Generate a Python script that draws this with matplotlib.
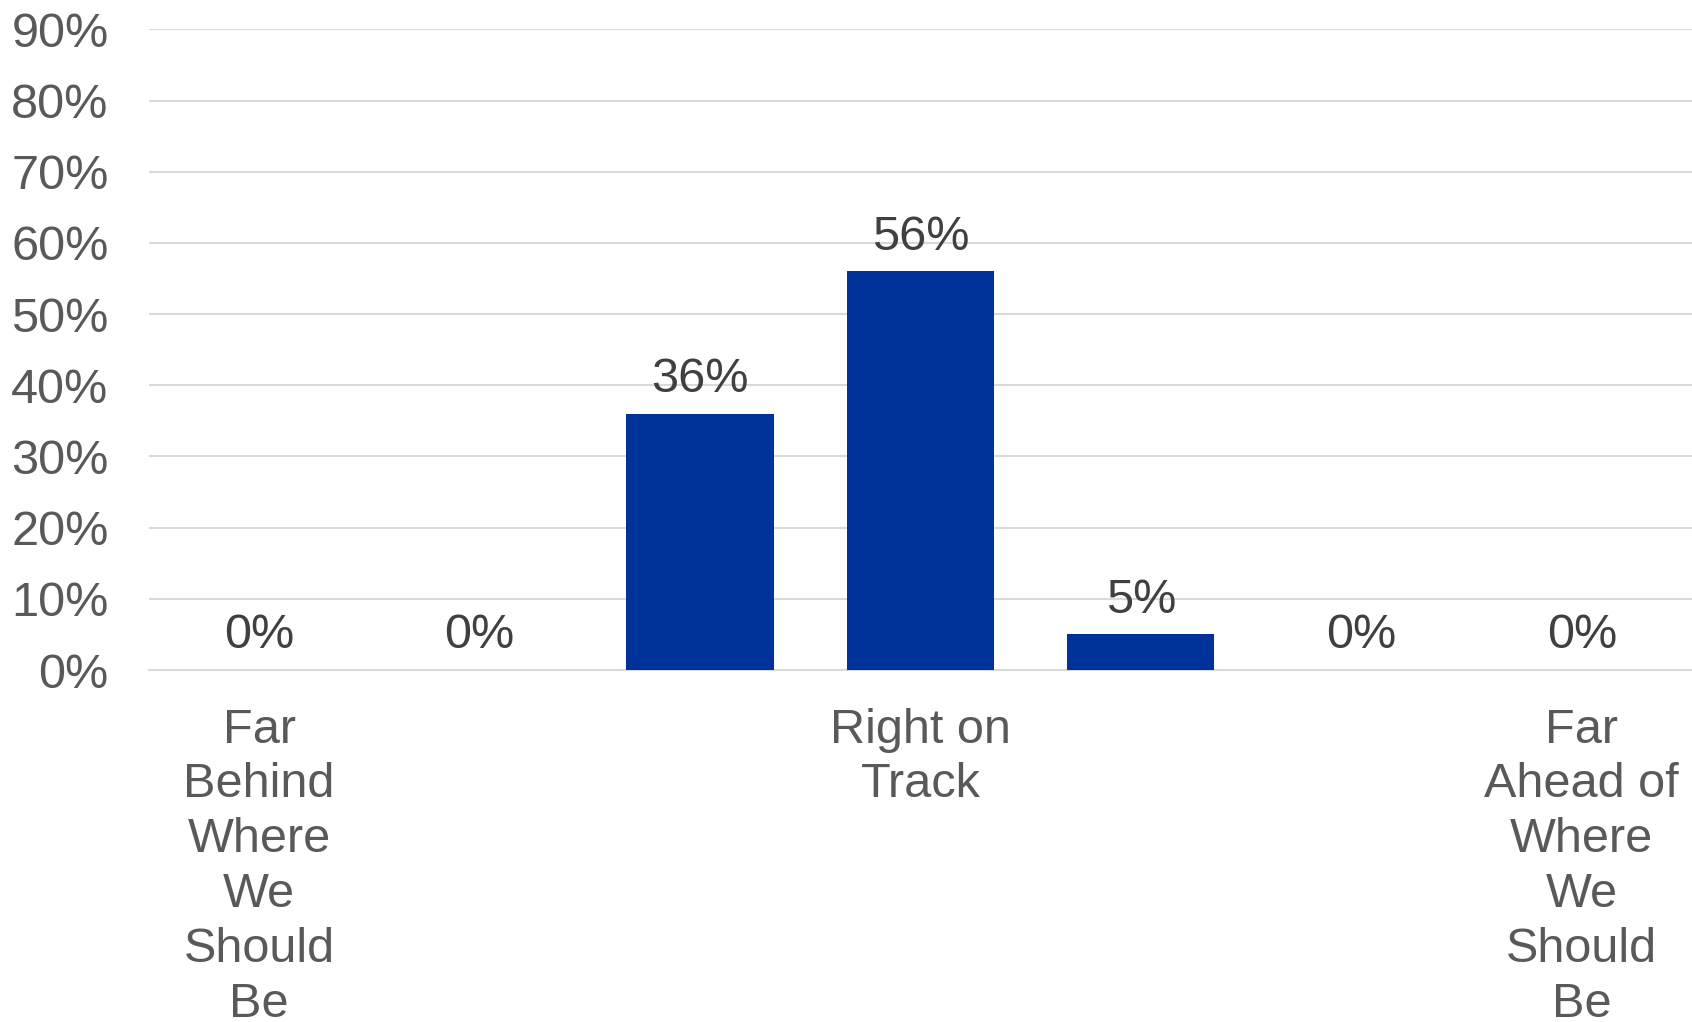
import matplotlib.pyplot as plt
import numpy as np

# ---------------- DATA ----------------

categories = [
    "Far\nBehind\nWhere\nWe\nShould\nBe",
    "",
    "",
    "Right on\nTrack",
    "",
    "",
    "Far\nAhead of\nWhere\nWe\nShould\nBe",
]
values = [0.0, 0.0, 0.36, 0.56, 0.05, 0.0, 0.0]
value_labels = ["0%", "0%", "36%", "56%", "5%", "0%", "0%"]
y_ticks = [0.0, 0.1, 0.2, 0.3, 0.4, 0.5, 0.6, 0.7, 0.8, 0.9]
y_tick_labels = ["0%", "10%", "20%", "30%", "40%", "50%", "60%", "70%", "80%", "90%"]

# ---------------- STYLE ----------------

plt.rcParams["font.family"] = ["Liberation Sans", "DejaVu Sans"]
font_size = 35
bar_color = "#003399"
grid_color = "#D9D9D9"
tick_color = "#595959"
label_color = "#404040"

# ---------------- PLOT ----------------

fig = plt.figure(figsize=(16.92, 10.22), dpi=100)
ax = fig.add_axes([0.088, 0.3444, 0.912, 0.6269])

x = np.arange(len(categories))
ax.bar(x, values, width=0.667, color=bar_color, zorder=3)

for xi, v, lab in zip(x, values, value_labels):
    ax.annotate(lab, (xi, v), xytext=(0, 15.5), textcoords="offset points",
                ha="center", va="baseline", fontsize=font_size, color=label_color)

ax.set_xlim(-0.5, len(categories) - 0.5)
ax.set_ylim(0, 0.9)
ax.set_yticks(y_ticks)
ax.set_yticklabels(y_tick_labels, fontsize=font_size, color=tick_color)
ax.set_xticks(x)
ax.set_xticklabels(categories, fontsize=font_size, color=tick_color, linespacing=1.28)

ax.tick_params(axis="y", length=0, pad=29)
ax.tick_params(axis="x", length=0, pad=27)
ax.yaxis.grid(True, color=grid_color, linewidth=1.5, zorder=0)
ax.set_axisbelow(True)

for side in ["top", "right", "left"]:
    ax.spines[side].set_visible(False)
ax.spines["bottom"].set_color(grid_color)
ax.spines["bottom"].set_linewidth(1.5)

fig.savefig("out.png", dpi=100)
